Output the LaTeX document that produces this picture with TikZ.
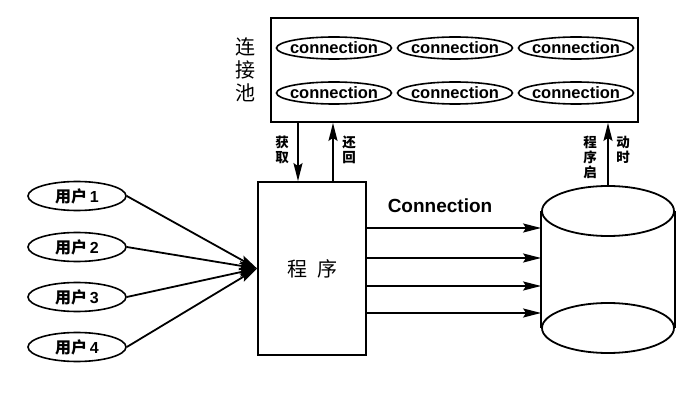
\documentclass[tikz,border=0pt]{standalone}
\usepackage{fontspec}
\setmainfont{Liberation Sans}
\newfontfamily\cjk{Noto Sans CJK SC}
\usetikzlibrary{shapes.geometric,arrows.meta}

\begin{document}
\begin{tikzpicture}[x=1pt, y=-1pt, line width=1.8pt,
  conn/.style={draw, ellipse, line width=1.6pt, minimum width=115, minimum height=22, inner xsep=-4pt, inner ysep=0pt, font=\bfseries\fontsize{16.5}{17}\selectfont},
  user/.style={draw, ellipse, line width=1.6pt, minimum width=98, minimum height=29, inner sep=0pt, font=\bfseries\fontsize{16}{17}\selectfont},
  arr/.style={-{Stealth[length=18pt,width=9pt,inset=3pt]}},
  side/.style={font=\cjk\bfseries\fontsize{13.5}{15}\selectfont, align=center, inner sep=0pt}]

\useasboundingbox (0,0) rectangle (697,401);

\node[draw, minimum width=367, minimum height=104, inner sep=0pt] (pool) at (454.5,70) {};
\node[font=\cjk\fontsize{20}{23}\selectfont, align=center, inner sep=0pt] (poollabel) at (245,70) {连\\接\\池};

\node[conn] (c1) at (334,48) {connection};
\node[conn] (c2) at (455,48) {connection};
\node[conn] (c3) at (576,48) {connection};
\node[conn] (c4) at (334,93) {connection};
\node[conn] (c5) at (455,93) {connection};
\node[conn] (c6) at (576,93) {connection};

\node[draw, minimum width=108, minimum height=173, inner sep=0pt, font=\cjk\fontsize{20}{22}\selectfont] (prog) at (312,268.5) {程\hspace{10pt}序};

\node[user] (u1) at (77,196) {{\cjk 用户}\,1};
\node[user] (u2) at (77,247) {{\cjk 用户}\,2};
\node[user] (u3) at (77,297) {{\cjk 用户}\,3};
\node[user] (u4) at (77,347) {{\cjk 用户}\,4};

\draw[arr] (u1.east) -- (prog.west);
\draw[arr] (u2.east) -- (prog.west);
\draw[arr] (u3.east) -- (prog.west);
\draw[arr] (u4.east) -- (prog.west);

\coordinate (getx) at (298,0);
\coordinate (backx) at (333,0);
\draw[arr] (pool.south -| getx) -- (prog.north -| getx);
\draw[arr] (prog.north -| backx) -- (pool.south -| backx);
\node[side] (getlabel) at (282,149.5) {获\\取};
\node[side] (backlabel) at (349,149.5) {还\\回};

\node[draw, ellipse, minimum width=132, minimum height=50, inner sep=0pt] (dbtop) at (608,211) {};
\node[draw, ellipse, minimum width=132, minimum height=50, inner sep=0pt] (dbbot) at (608,328) {};
\draw (dbtop.west) -- (dbbot.west);
\draw (dbtop.east) -- (dbbot.east);

\draw[arr] (dbtop.north) -- (pool.south -| dbtop.north);
\node[side] (startlabel) at (590,157) {程\\序\\启};
\node[side] (startlabel2) at (623,149.5) {动\\时};

\coordinate (r1) at (0,228);
\coordinate (r2) at (0,258);
\coordinate (r3) at (0,286);
\coordinate (r4) at (0,313);
\draw[arr] (prog.east |- r1) -- (dbtop.west |- r1);
\draw[arr] (prog.east |- r2) -- (dbtop.west |- r2);
\draw[arr] (prog.east |- r3) -- (dbtop.west |- r3);
\draw[arr] (prog.east |- r4) -- (dbtop.west |- r4);
\node[font=\bfseries\fontsize{19}{20}\selectfont] (connlabel) at (440,206) {Connection};

\end{tikzpicture}
\end{document}
